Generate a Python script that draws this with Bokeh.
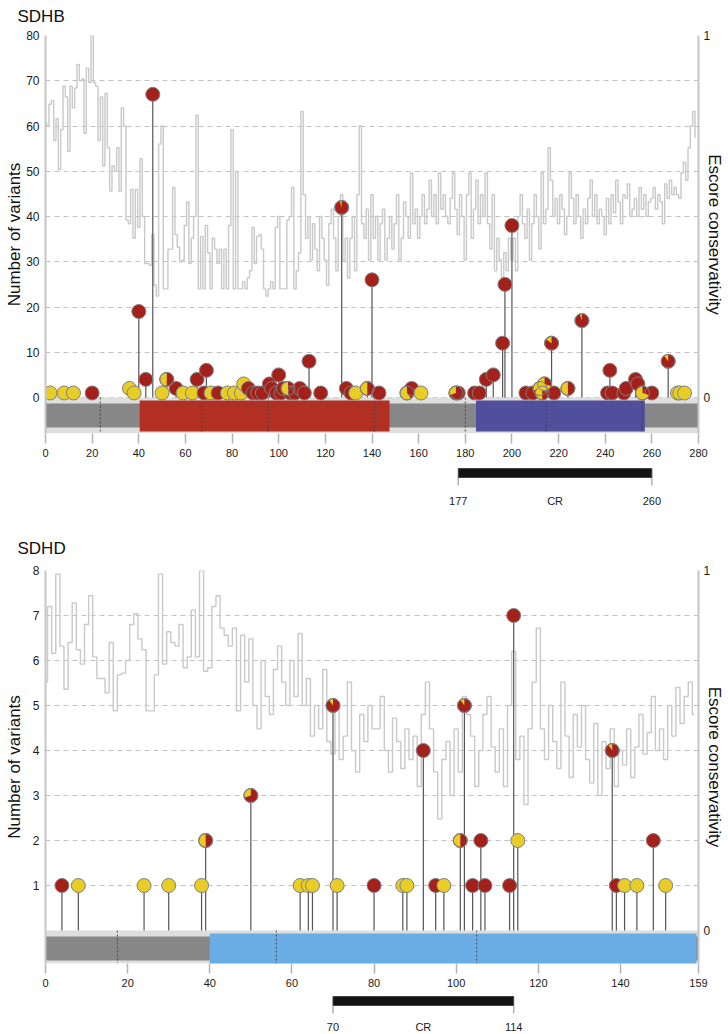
import numpy as np
from bokeh.plotting import figure
from bokeh.models import Range1d, LinearAxis, FixedTicker
from bokeh.layouts import column
from bokeh.embed import file_html
from bokeh.resources import INLINE
from bokeh.core.properties import value

# ---------------- data ----------------
# SDHB conservation (Escore, one value per residue 0..279)
sdhb_cons = [
    0.76, 0.75, 0.81, 0.82, 0.71, 0.77, 0.63, 0.74, 0.86, 0.83,
    0.68, 0.86, 0.80, 0.855, 0.92, 0.875, 0.88, 0.73, 0.91, 0.87,
    1.0, 0.87, 0.86, 0.71, 0.83, 0.64, 0.84, 0.69, 0.57, 0.64,
    0.625, 0.69, 0.57, 0.80, 0.75, 0.49, 0.48, 0.575, 0.44, 0.575,
    0.47, 0.66, 0.50, 0.37, 0.37, 0.365, 0.45, 0.31, 0.28, 0.70,
    0.75, 0.30, 0.30, 0.41, 0.41, 0.58, 0.45, 0.415, 0.375, 0.38,
    0.475, 0.54, 0.37, 0.44, 0.50, 0.78, 0.30, 0.445, 0.30, 0.475,
    0.40, 0.30, 0.44, 0.41, 0.37, 0.41, 0.30, 0.41, 0.30, 0.475,
    0.74, 0.30, 0.625, 0.30, 0.30, 0.32, 0.30, 0.33, 0.35, 0.47,
    0.37, 0.445, 0.45, 0.41, 0.30, 0.28, 0.30, 0.32, 0.30, 0.47,
    0.50, 0.30, 0.30, 0.30, 0.49, 0.50, 0.58, 0.30, 0.35, 0.40,
    0.79, 0.56, 0.44, 0.50, 0.38, 0.48, 0.41, 0.35, 0.50, 0.44,
    0.38, 0.31, 0.48, 0.52, 0.44, 0.35, 0.50, 0.56, 0.38, 0.44,
    0.33, 0.44, 0.50, 0.35, 0.56, 0.75, 0.48, 0.44, 0.52, 0.38,
    0.56, 0.44, 0.50, 0.38, 0.48, 0.52, 0.38, 0.44, 0.50, 0.41,
    0.48, 0.56, 0.38, 0.44, 0.54, 0.50, 0.44, 0.62, 0.48, 0.52,
    0.44, 0.50, 0.56, 0.48, 0.52, 0.60, 0.50, 0.56, 0.48, 0.62,
    0.52, 0.56, 0.50, 0.48, 0.55, 0.62, 0.52, 0.45, 0.56, 0.50,
    0.38, 0.56, 0.62, 0.44, 0.52, 0.60, 0.48, 0.56, 0.50, 0.62,
    0.48, 0.41, 0.56, 0.35, 0.44, 0.38, 0.33, 0.40, 0.35, 0.44,
    0.38, 0.44, 0.35, 0.50, 0.56, 0.48, 0.44, 0.52, 0.38, 0.48,
    0.56, 0.50, 0.41, 0.62, 0.48, 0.52, 0.69, 0.60, 0.50, 0.55,
    0.48, 0.56, 0.52, 0.45, 0.50, 0.62, 0.55, 0.48, 0.56, 0.50,
    0.44, 0.52, 0.48, 0.55, 0.60, 0.50, 0.56, 0.48, 0.52, 0.50,
    0.45, 0.55, 0.48, 0.56, 0.51, 0.60, 0.54, 0.48, 0.56, 0.55,
    0.59, 0.50, 0.52, 0.55, 0.50, 0.58, 0.52, 0.56, 0.50, 0.54,
    0.55, 0.58, 0.52, 0.56, 0.54, 0.48, 0.59, 0.55, 0.60, 0.56,
    0.58, 0.56, 0.55, 0.62, 0.65, 0.60, 0.69, 0.75, 0.79, 0.72,
]
# SDHB variants: residue, number of variants, yellow share of the pie
sdhb_pos = [2, 8, 12, 20, 36, 38, 40, 43, 46, 50, 52, 56, 59, 63, 65, 68, 69, 71, 74, 78,
            81, 84, 85, 87, 89, 91, 93, 96, 97, 99, 100, 101, 102, 104, 105, 107, 109, 111,
            113, 118, 127, 129, 131, 133, 138, 140, 143, 155, 157, 161, 176, 177, 184, 186,
            189, 192, 196, 197, 200, 206, 209, 212, 213, 214, 217, 218, 224, 230, 241, 242,
            243, 248, 249, 253, 254, 256, 260, 267, 271, 272, 274]
sdhb_count = [1, 1, 1, 1, 2, 1, 19, 4, 67, 1, 4, 2, 1, 1, 4, 1, 6, 1, 1, 1,
              1, 1, 3, 2, 1, 1, 1, 3, 2, 1, 5, 1, 2, 2, 1, 1, 2, 1,
              8, 1, 42, 2, 1, 1, 2, 26, 1, 1, 2, 1, 1, 1, 1, 1,
              4, 5, 12, 25, 38, 1, 1, 2, 1, 3, 12, 1, 2, 17, 1, 6,
              1, 1, 2, 4, 3, 1, 1, 8, 1, 1, 1]
sdhb_yellow = [1, 1, 1, 0, 1, 1, 0, 0, 0, 1, 0.5, 0, 1, 1, 0, 0, 0, 1, 0, 1,
               1, 1, 1, 0, 0, 0, 0, 0, 0, 0, 0, 0, 0, 0.5, 0, 0, 0, 0,
               0, 0, 0.05, 0, 0, 1, 0.5, 0, 0, 0.6, 0, 1, 0.3, 0, 0, 0,
               0, 0, 0, 0, 0, 0, 0, 0.3, 0.5, 0.7, 0.15, 0, 0.5, 0.05, 0, 0,
               0, 0, 0, 0, 0, 0.7, 0, 0.1, 1, 1, 1]
sdhb_dom_start = [40.4, 184.6]
sdhb_dom_end = [147.5, 257.0]
sdhb_dividers = [23.5, 67, 95.5, 141, 180, 214.6, 255.7]
sdhb_cr = [177, 260]
sdhb_xticks = [0, 20, 40, 60, 80, 100, 120, 140, 160, 180, 200, 220, 240, 260, 280]
sdhb_yticks = [0, 10, 20, 30, 40, 50, 60, 70, 80]

# SDHD conservation (Escore, one value per residue 0..158)
sdhd_cons = [
    0.69, 0.90, 0.77, 0.99, 0.79, 0.67, 0.80, 0.91, 0.78, 0.74,
    0.85, 0.93, 0.76, 0.70, 0.70, 0.66, 0.80, 0.61, 0.71, 0.715,
    0.75, 0.85, 0.88, 0.81, 0.78, 0.61, 0.61, 0.71, 0.99, 0.74,
    0.83, 0.80, 0.79, 0.85, 0.73, 0.76, 0.89, 0.76, 1.0, 0.72,
    0.73, 0.90, 0.93, 0.84, 0.82, 0.79, 0.84, 0.61, 0.82,
    0.69, 0.81, 0.625, 0.56, 0.75, 0.65, 0.60, 0.725, 0.79, 0.69, 0.625, 0.75,
    0.65, 0.825, 0.625, 0.70, 0.54, 0.625, 0.56, 0.725, 0.525, 0.49,
    0.625, 0.475, 0.54, 0.69, 0.50, 0.44, 0.60, 0.525, 0.625, 0.56,
    0.56, 0.65, 0.50, 0.44, 0.59, 0.525, 0.45, 0.56, 0.475, 0.54,
    0.40, 0.60, 0.69, 0.56, 0.44, 0.31, 0.475, 0.525, 0.375, 0.56,
    0.44, 0.65, 0.60, 0.54, 0.40, 0.50, 0.60, 0.65, 0.51, 0.44,
    0.56, 0.40, 0.625, 0.775, 0.475, 0.54, 0.35, 0.56, 0.69, 0.84,
    0.56, 0.475, 0.625, 0.525, 0.45, 0.69, 0.54, 0.425, 0.60, 0.51,
    0.625, 0.475, 0.41, 0.575, 0.375, 0.525, 0.45, 0.56, 0.40, 0.50,
    0.46, 0.56, 0.425, 0.51, 0.60, 0.49, 0.55, 0.65, 0.50, 0.56,
    0.475, 0.625, 0.54, 0.675, 0.575, 0.65, 0.69, 0.60,
]
sdhd_pos = [4, 8, 24, 30, 38, 39, 50, 62, 64, 65, 70, 71, 80, 87, 88, 92, 95, 97, 101,
            102, 104, 106, 107, 113, 114, 115, 138, 139, 141, 144, 148, 151]
sdhd_count = [1, 1, 1, 1, 1, 2, 3, 1, 1, 1, 5, 1, 1, 1, 1, 4, 1, 1, 2,
              5, 1, 2, 1, 1, 7, 2, 4, 1, 1, 1, 2, 1]
sdhd_yellow = [0, 1, 1, 1, 1, 0.5, 0.3, 1, 1, 1, 0.1, 1, 0, 1, 1, 0, 0, 1, 0.5,
               0.1, 0, 0, 0, 0, 0, 1, 0.1, 0, 1, 1, 0, 1]
sdhd_dom_start = [40.0]
sdhd_dom_end = [158.5]
sdhd_dividers = [17.5, 56.2, 105]
sdhd_cr = [70, 114]
sdhd_xticks = [0, 20, 40, 60, 80, 100, 120, 140, 159]
sdhd_yticks = [1, 2, 3, 4, 5, 6, 7, 8]

ylabel_left = "Number of variants"
ylabel_right = "Escore conservativity"

# ---------------- style ----------------
FONT = "Liberation Sans"
RED = "#a3201b"
YEL = "#e8cd27"
OUTL = "#808080"
W = 728
BL, BR = 45, 30      # plot frame spans page x 45 .. 698


def bare(height, xr, yr, bl=0, br=0, align=True):
    p = figure(width=W, height=height, x_range=xr, y_range=yr, title=None,
               x_axis_location=None, y_axis_location=None,
               min_border_left=bl, min_border_right=br, min_border_top=0, min_border_bottom=0,
               toolbar_location=None, output_backend="svg", outline_line_color=None,
               frame_align=align)
    p.grid.visible = False
    return p


def title_panel(name, height, base_y):
    p = bare(height, Range1d(0, W), Range1d(height, 0), align=False)
    p.text(x=[17], y=[base_y], text=[name], text_align="left", text_baseline="alphabetic",
           text_font=value(FONT), text_font_size="17px", text_color="#111111")
    return p


def main_panel(length, cons, pos, cnt, yf, dstart, dend, dcolor, dividers,
               xticks, yticks, height, top, bottom, ymin, ymax, cons_max_count, ylab_standoff):
    p = figure(width=W, height=height, x_range=Range1d(0, length), y_range=Range1d(ymin, ymax),
               min_border_left=BL, min_border_right=BR, min_border_top=top, min_border_bottom=bottom,
               toolbar_location=None, output_backend="svg", outline_line_color=None)
    p.extra_y_ranges = {"cons": Range1d(ymin / cons_max_count, ymax / cons_max_count)}
    p.xgrid.visible = False
    p.ygrid.grid_line_color = "#c2c2c2"
    p.ygrid.grid_line_dash = "5 4"
    p.ygrid.grid_line_width = 1.2

    ya = p.yaxis[0]
    ya.ticker = FixedTicker(ticks=yticks)
    ya.major_tick_out = 0
    ya.major_tick_in = 0
    ya.minor_tick_out = 0
    ya.minor_tick_in = 0
    ya.axis_line_color = "#c6c6c6"
    ya.axis_line_width = 2
    ya.major_label_text_font = FONT
    ya.major_label_text_font_size = "12px"
    ya.major_label_text_color = "#1a1a1a"
    ya.major_label_standoff = 6
    ya.axis_label = ylabel_left
    ya.axis_label_text_font = FONT
    ya.axis_label_text_font_style = "normal"
    ya.axis_label_text_font_size = "17px"
    ya.axis_label_text_color = "#111111"
    ya.axis_label_standoff = ylab_standoff

    xa = p.xaxis[0]
    xa.ticker = FixedTicker(ticks=xticks)
    xa.axis_line_color = None
    xa.major_tick_out = 10
    xa.major_tick_in = 0
    xa.minor_tick_out = 0
    xa.minor_tick_in = 0
    xa.major_tick_line_color = "#b4b4b4"
    xa.major_tick_line_width = 1.5
    xa.major_label_text_font = FONT
    xa.major_label_text_font_size = "11px"
    xa.major_label_text_color = "#1a1a1a"
    xa.major_label_standoff = 5

    ra = LinearAxis(y_range_name="cons", ticker=FixedTicker(ticks=[0, 1]))
    ra.major_tick_out = 0
    ra.major_tick_in = 0
    ra.minor_tick_out = 0
    ra.minor_tick_in = 0
    ra.axis_line_color = "#c6c6c6"
    ra.axis_line_width = 2
    ra.major_label_text_font = FONT
    ra.major_label_text_font_size = "12px"
    ra.major_label_text_color = "#1a1a1a"
    ra.major_label_standoff = 5
    ra.axis_label = ylabel_right
    ra.axis_label_text_font = FONT
    ra.axis_label_text_font_style = "normal"
    ra.axis_label_text_font_size = "17px"
    ra.axis_label_text_color = "#111111"
    ra.axis_label_standoff = -8
    p.add_layout(ra, "right")

    res = np.arange(len(cons))
    p.step(res, cons, mode="center", y_range_name="cons", line_color="#c9c9c9", line_width=1.4)

    unit = (ymax - ymin) / (height - top - bottom)  # data units per pixel
    p.quad(left=[0], right=[length], top=[0], bottom=[ymin], fill_color="#dedede", line_color=None)
    p.quad(left=[0], right=[length], top=[-6 * unit], bottom=[-30 * unit],
           fill_color="#878787", line_color=None)
    p.quad(left=dstart, right=dend, top=[-3 * unit] * len(dstart), bottom=[-34 * unit] * len(dstart),
           fill_color=dcolor, line_color=None)
    p.segment(x0=dividers, x1=dividers, y0=[0] * len(dividers), y1=[ymin] * len(dividers),
              line_color="#404040", line_width=0.9, line_dash="2 2")

    p.segment(x0=pos, x1=pos, y0=[0] * len(pos), y1=cnt, line_color="#555555", line_width=1.2)
    base = [YEL if f >= 1 else RED for f in yf]
    p.circle(x=pos, y=cnt, radius=7, radius_units="screen", fill_color=base,
             line_color=OUTL, line_width=1)
    mix = [i for i, f in enumerate(yf) if 0 < f < 1]
    if mix:
        mx = [pos[i] for i in mix]
        my = [cnt[i] for i in mix]
        ma = [np.pi / 2 + 2 * np.pi * yf[i] for i in mix]
        p.wedge(x=mx, y=my, radius=6.5, radius_units="screen", start_angle=[np.pi / 2] * len(mix),
                end_angle=ma, direction="anticlock", fill_color=YEL, line_color=None)
        p.circle(x=mx, y=my, radius=7, radius_units="screen", fill_color=None,
                 line_color=OUTL, line_width=1)
    return p


def cr_panel(length, cr, height, bar_top, bar_h, lab_y):
    p = bare(height, Range1d(0, length), Range1d(height, 0), bl=BL, br=BR)
    p.segment(x0=cr, x1=cr, y0=[bar_top + bar_h] * 2, y1=[bar_top + bar_h + 8] * 2,
              line_color="#b0b0b0", line_width=1.5)
    p.quad(left=[cr[0]], right=[cr[1]], top=[bar_top], bottom=[bar_top + bar_h],
           fill_color="#141414", line_color="#444444", line_width=1)
    p.text(x=[cr[0], (cr[0] + cr[1]) / 2, cr[1]], y=[lab_y] * 3,
           text=[str(cr[0]), "CR", str(cr[1])], text_align="center", text_baseline="middle",
           text_font=value(FONT), text_font_size="11px", text_color="#1a1a1a")
    return p


# page rows: title 0-27, SDHB 27-462 (frame 35..433), CR 462-512,
# title 512-562, SDHD 562-992 (frame 570..963), CR 992-1034
T1 = title_panel("SDHB", 27, 16)
pA = main_panel(280, sdhb_cons, sdhb_pos, sdhb_count, sdhb_yellow,
                sdhb_dom_start, sdhb_dom_end, ["#b22f24", "#4f4f9c"], sdhb_dividers,
                sdhb_xticks, sdhb_yticks, height=435, top=8, bottom=29,
                ymin=-36 / 4.525, ymax=80, cons_max_count=80, ylab_standoff=-1)
pB = cr_panel(280, sdhb_cr, 50, 6, 9, 38)

T2 = title_panel("SDHD", 50, 36)
pC = main_panel(159, sdhd_cons, sdhd_pos, sdhd_count, sdhd_yellow,
                sdhd_dom_start, sdhd_dom_end, ["#6aade4"], sdhd_dividers,
                sdhd_xticks, sdhd_yticks, height=430, top=8, bottom=29,
                ymin=-33 / 45, ymax=8, cons_max_count=8, ylab_standoff=6)
pD = cr_panel(159, sdhd_cr, 42, 4, 9, 34)

layout = column(T1, pA, pB, T2, pC, pD, spacing=0)
open("out.html", "w").write(file_html(layout, INLINE))
